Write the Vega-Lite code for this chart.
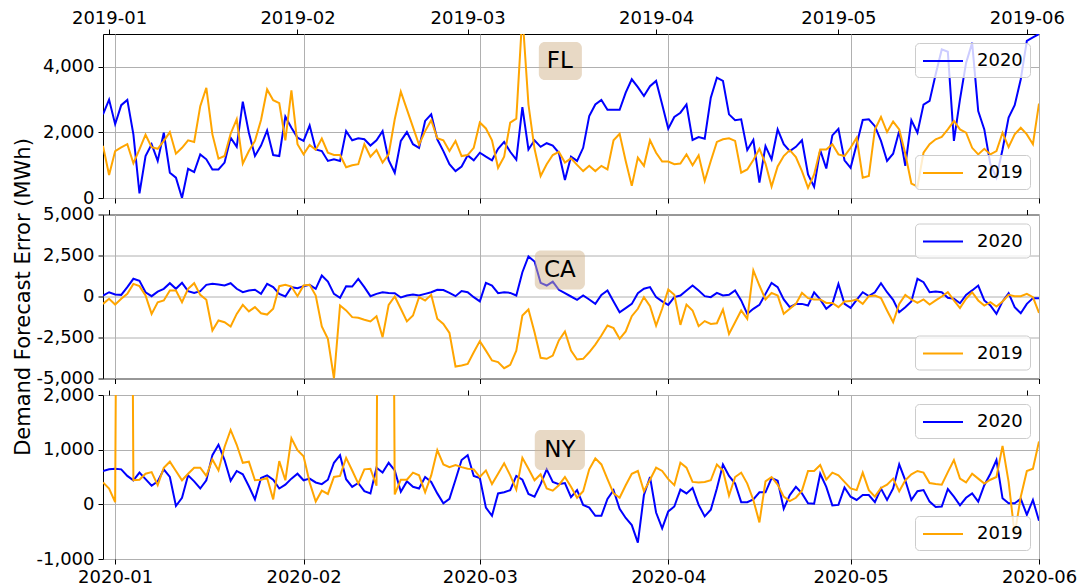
{
"$schema": "https://vega.github.io/schema/vega-lite/v6.json",
"padding": {"left": 12, "top": 8, "right": 0, "bottom": 0},
"background": "white",
"config": {
  "font": "DejaVu Sans",
  "view": {"stroke": "black", "strokeWidth": 1},
  "axis": {"labelFont": "DejaVu Sans", "labelFontSize": 18, "labelColor": "black", "tickColor": "black", "tickSize": 5, "tickWidth": 1, "domain": false, "gridColor": "#b0b0b0", "gridWidth": 1, "titleFont": "DejaVu Sans", "titleFontSize": 21, "titleFontWeight": "normal", "titleColor": "black", "labelFlush": false, "labelOverlap": false},
  "legend": {"labelFont": "DejaVu Sans", "labelFontSize": 18, "labelColor": "black", "padding": 7, "fillColor": "rgba(255,255,255,0.8)", "strokeColor": "#cccccc", "cornerRadius": 4, "symbolType": "M-2,0L2,0", "symbolSize": 400, "symbolStrokeWidth": 2, "symbolOffset": 10, "labelOffset": 23, "offset": 9},
  "locale": {"number": {"decimal": ".", "thousands": ",", "grouping": [3], "currency": ["$", ""], "minus": "-"}}
},
"data": {"values": [
{"d20":"2019-12-30","d19":"2018-12-31","FL20":2550,"FL19":1590,"CA20":60,"CA19":-450,"NY20":610,"NY19":400},
{"d20":"2019-12-31","d19":"2019-01-01","FL20":3000,"FL19":700,"CA20":260,"CA19":-140,"NY20":640,"NY19":290},
{"d20":"2020-01-01","d19":"2019-01-02","FL20":2250,"FL19":1430,"CA20":120,"CA19":-490,"NY20":650,"NY19":40},
{"d20":"2020-01-02","d19":"2019-01-03","FL20":2830,"FL19":1540,"CA20":100,"CA19":-140,"NY20":640,"NY19":20000},
{"d20":"2020-01-03","d19":"2019-01-04","FL20":2990,"FL19":1640,"CA20":570,"CA19":160,"NY20":520,"NY19":20000},
{"d20":"2020-01-04","d19":"2019-01-05","FL20":1940,"FL19":1060,"CA20":1080,"CA19":770,"NY20":440,"NY19":440},
{"d20":"2020-01-05","d19":"2019-01-06","FL20":140,"FL19":1480,"CA20":960,"CA19":630,"NY20":580,"NY19":450},
{"d20":"2020-01-06","d19":"2019-01-07","FL20":1280,"FL19":1930,"CA20":260,"CA19":60,"NY20":460,"NY19":560},
{"d20":"2020-01-07","d19":"2019-01-08","FL20":1640,"FL19":1550,"CA20":20,"CA19":-1060,"NY20":340,"NY19":590},
{"d20":"2020-01-08","d19":"2019-01-09","FL20":1130,"FL19":1500,"CA20":300,"CA19":-350,"NY20":420,"NY19":350},
{"d20":"2020-01-09","d19":"2019-01-10","FL20":1990,"FL19":1740,"CA20":470,"CA19":-240,"NY20":640,"NY19":670},
{"d20":"2020-01-10","d19":"2019-01-11","FL20":770,"FL19":2010,"CA20":810,"CA19":370,"NY20":500,"NY19":780},
{"d20":"2020-01-11","d19":"2019-01-12","FL20":620,"FL19":1350,"CA20":470,"CA19":370,"NY20":-30,"NY19":610},
{"d20":"2020-01-12","d19":"2019-01-13","FL20":0,"FL19":1530,"CA20":830,"CA19":-350,"NY20":120,"NY19":440},
{"d20":"2020-01-13","d19":"2019-01-14","FL20":890,"FL19":1760,"CA20":330,"CA19":470,"NY20":530,"NY19":560},
{"d20":"2020-01-14","d19":"2019-01-15","FL20":790,"FL19":1710,"CA20":220,"CA19":810,"NY20":420,"NY19":670},
{"d20":"2020-01-15","d19":"2019-01-16","FL20":1330,"FL19":2800,"CA20":330,"CA19":100,"NY20":290,"NY19":670},
{"d20":"2020-01-16","d19":"2019-01-17","FL20":1180,"FL19":3360,"CA20":710,"CA19":-200,"NY20":440,"NY19":520},
{"d20":"2020-01-17","d19":"2019-01-18","FL20":870,"FL19":1940,"CA20":770,"CA19":-2070,"NY20":900,"NY19":820},
{"d20":"2020-01-18","d19":"2019-01-19","FL20":870,"FL19":1200,"CA20":730,"CA19":-1460,"NY20":1090,"NY19":620},
{"d20":"2020-01-19","d19":"2019-01-20","FL20":1080,"FL19":1280,"CA20":670,"CA19":-1570,"NY20":810,"NY19":1050},
{"d20":"2020-01-20","d19":"2019-01-21","FL20":1840,"FL19":1960,"CA20":810,"CA19":-1830,"NY20":430,"NY19":1360},
{"d20":"2020-01-21","d19":"2019-01-22","FL20":1560,"FL19":2400,"CA20":470,"CA19":-1060,"NY20":610,"NY19":1090},
{"d20":"2020-01-22","d19":"2019-01-23","FL20":2940,"FL19":1050,"CA20":260,"CA19":-510,"NY20":550,"NY19":760},
{"d20":"2020-01-23","d19":"2019-01-24","FL20":1990,"FL19":1430,"CA20":370,"CA19":-910,"NY20":330,"NY19":780},
{"d20":"2020-01-24","d19":"2019-01-25","FL20":1280,"FL19":1740,"CA20":410,"CA19":-650,"NY20":90,"NY19":440},
{"d20":"2020-01-25","d19":"2019-01-26","FL20":1600,"FL19":2380,"CA20":160,"CA19":-1020,"NY20":480,"NY19":450},
{"d20":"2020-01-26","d19":"2019-01-27","FL20":2060,"FL19":3310,"CA20":770,"CA19":-1100,"NY20":530,"NY19":480},
{"d20":"2020-01-27","d19":"2019-01-28","FL20":1310,"FL19":2980,"CA20":570,"CA19":-750,"NY20":450,"NY19":90},
{"d20":"2020-01-28","d19":"2019-01-29","FL20":1280,"FL19":2890,"CA20":160,"CA19":630,"NY20":290,"NY19":790},
{"d20":"2020-01-29","d19":"2019-01-30","FL20":2480,"FL19":1760,"CA20":0,"CA19":710,"NY20":360,"NY19":440},
{"d20":"2020-01-30","d19":"2019-01-31","FL20":2140,"FL19":3280,"CA20":570,"CA19":610,"NY20":470,"NY19":1210},
{"d20":"2020-01-31","d19":"2019-02-01","FL20":1840,"FL19":1640,"CA20":510,"CA19":20,"NY20":560,"NY19":990},
{"d20":"2020-02-01","d19":"2019-02-02","FL20":1740,"FL19":1330,"CA20":630,"CA19":670,"NY20":440,"NY19":880},
{"d20":"2020-02-02","d19":"2019-02-03","FL20":2210,"FL19":1620,"CA20":710,"CA19":710,"NY20":470,"NY19":400},
{"d20":"2020-02-03","d19":"2019-02-04","FL20":1480,"FL19":1470,"CA20":470,"CA19":60,"NY20":400,"NY19":50},
{"d20":"2020-02-04","d19":"2019-02-05","FL20":1430,"FL19":1810,"CA20":1280,"CA19":-1830,"NY20":370,"NY19":250},
{"d20":"2020-02-05","d19":"2019-02-06","FL20":1130,"FL19":1380,"CA20":910,"CA19":-2580,"NY20":450,"NY19":190},
{"d20":"2020-02-06","d19":"2019-02-07","FL20":1180,"FL19":1310,"CA20":160,"CA19":-5000,"NY20":760,"NY19":500},
{"d20":"2020-02-07","d19":"2019-02-08","FL20":1130,"FL19":1310,"CA20":-80,"CA19":-550,"NY20":900,"NY19":520},
{"d20":"2020-02-08","d19":"2019-02-09","FL20":2040,"FL19":940,"CA20":630,"CA19":-850,"NY20":460,"NY19":850},
{"d20":"2020-02-09","d19":"2019-02-10","FL20":1760,"FL19":1000,"CA20":610,"CA19":-1260,"NY20":320,"NY19":620},
{"d20":"2020-02-10","d19":"2019-02-11","FL20":1820,"FL19":1030,"CA20":1080,"CA19":-1300,"NY20":390,"NY19":380},
{"d20":"2020-02-11","d19":"2019-02-12","FL20":1790,"FL19":1640,"CA20":570,"CA19":-1420,"NY20":240,"NY19":640},
{"d20":"2020-02-12","d19":"2019-02-13","FL20":1600,"FL19":1260,"CA20":20,"CA19":-1520,"NY20":200,"NY19":650},
{"d20":"2020-02-13","d19":"2019-02-14","FL20":1760,"FL19":1460,"CA20":160,"CA19":-1200,"NY20":670,"NY19":340},
{"d20":"2020-02-14","d19":"2019-02-15","FL20":2040,"FL19":1080,"CA20":260,"CA19":-2480,"NY20":580,"NY19":20000},
{"d20":"2020-02-15","d19":"2019-02-16","FL20":1150,"FL19":1330,"CA20":220,"CA19":-510,"NY20":760,"NY19":20000},
{"d20":"2020-02-16","d19":"2019-02-17","FL20":770,"FL19":2400,"CA20":200,"CA19":0,"NY20":620,"NY19":180},
{"d20":"2020-02-17","d19":"2019-02-18","FL20":1740,"FL19":3240,"CA20":-60,"CA19":-750,"NY20":230,"NY19":450},
{"d20":"2020-02-18","d19":"2019-02-19","FL20":2010,"FL19":2700,"CA20":60,"CA19":-1520,"NY20":420,"NY19":450},
{"d20":"2020-02-19","d19":"2019-02-20","FL20":1640,"FL19":2160,"CA20":120,"CA19":-1160,"NY20":320,"NY19":580},
{"d20":"2020-02-20","d19":"2019-02-21","FL20":1530,"FL19":1620,"CA20":60,"CA19":-40,"NY20":290,"NY19":530},
{"d20":"2020-02-21","d19":"2019-02-22","FL20":2350,"FL19":2040,"CA20":160,"CA19":-240,"NY20":500,"NY19":220},
{"d20":"2020-02-22","d19":"2019-02-23","FL20":2550,"FL19":2370,"CA20":260,"CA19":100,"NY20":410,"NY19":530},
{"d20":"2020-02-23","d19":"2019-02-24","FL20":1790,"FL19":1820,"CA20":410,"CA19":-1360,"NY20":200,"NY19":990},
{"d20":"2020-02-24","d19":"2019-02-25","FL20":1430,"FL19":1760,"CA20":390,"CA19":-1670,"NY20":20,"NY19":730},
{"d20":"2020-02-25","d19":"2019-02-26","FL20":1030,"FL19":1430,"CA20":220,"CA19":-2220,"NY20":100,"NY19":680},
{"d20":"2020-02-26","d19":"2019-02-27","FL20":820,"FL19":1740,"CA20":20,"CA19":-4270,"NY20":450,"NY19":720},
{"d20":"2020-02-27","d19":"2019-02-28","FL20":960,"FL19":1280,"CA20":330,"CA19":-4210,"NY20":810,"NY19":680},
{"d20":"2020-02-28","d19":"2019-03-01","FL20":1300,"FL19":1310,"CA20":260,"CA19":-4110,"NY20":900,"NY19":650},
{"d20":"2020-02-29","d19":"2019-03-02","FL20":1150,"FL19":1530,"CA20":-40,"CA19":-3400,"NY20":520,"NY19":640},
{"d20":"2020-03-01","d19":"2019-03-03","FL20":1380,"FL19":2300,"CA20":-300,"CA19":-2720,"NY20":480,"NY19":500},
{"d20":"2020-03-02","d19":"2019-03-04","FL20":1260,"FL19":2120,"CA20":830,"CA19":-3300,"NY20":-60,"NY19":620},
{"d20":"2020-03-03","d19":"2019-03-05","FL20":1150,"FL19":1760,"CA20":670,"CA19":-3900,"NY20":-210,"NY19":370},
{"d20":"2020-03-04","d19":"2019-03-06","FL20":1500,"FL19":920,"CA20":200,"CA19":-4000,"NY20":200,"NY19":560},
{"d20":"2020-03-05","d19":"2019-03-07","FL20":1710,"FL19":1260,"CA20":260,"CA19":-4370,"NY20":220,"NY19":750},
{"d20":"2020-03-06","d19":"2019-03-08","FL20":1410,"FL19":2300,"CA20":220,"CA19":-4170,"NY20":260,"NY19":530},
{"d20":"2020-03-07","d19":"2019-03-09","FL20":1170,"FL19":2420,"CA20":60,"CA19":-3300,"NY20":520,"NY19":270},
{"d20":"2020-03-08","d19":"2019-03-10","FL20":2770,"FL19":5600,"CA20":1480,"CA19":-1160,"NY20":450,"NY19":850},
{"d20":"2020-03-09","d19":"2019-03-11","FL20":1480,"FL19":2850,"CA20":2440,"CA19":-790,"NY20":190,"NY19":650},
{"d20":"2020-03-10","d19":"2019-03-12","FL20":1760,"FL19":1500,"CA20":2130,"CA19":-2180,"NY20":140,"NY19":440},
{"d20":"2020-03-11","d19":"2019-03-13","FL20":1560,"FL19":670,"CA20":830,"CA19":-3740,"NY20":370,"NY19":550},
{"d20":"2020-03-12","d19":"2019-03-14","FL20":1670,"FL19":1030,"CA20":670,"CA19":-3800,"NY20":640,"NY19":290},
{"d20":"2020-03-13","d19":"2019-03-15","FL20":1600,"FL19":1310,"CA20":910,"CA19":-3600,"NY20":410,"NY19":250},
{"d20":"2020-03-14","d19":"2019-03-16","FL20":1380,"FL19":1410,"CA20":410,"CA19":-2680,"NY20":370,"NY19":350},
{"d20":"2020-03-15","d19":"2019-03-17","FL20":550,"FL19":1080,"CA20":200,"CA19":-2130,"NY20":390,"NY19":500},
{"d20":"2020-03-16","d19":"2019-03-18","FL20":1260,"FL19":1210,"CA20":0,"CA19":-3300,"NY20":130,"NY19":320},
{"d20":"2020-03-17","d19":"2019-03-19","FL20":1130,"FL19":1010,"CA20":-200,"CA19":-3840,"NY20":260,"NY19":120},
{"d20":"2020-03-18","d19":"2019-03-20","FL20":1530,"FL19":820,"CA20":60,"CA19":-3800,"NY20":-10,"NY19":240},
{"d20":"2020-03-19","d19":"2019-03-21","FL20":2500,"FL19":980,"CA20":-180,"CA19":-3400,"NY20":-60,"NY19":640},
{"d20":"2020-03-20","d19":"2019-03-22","FL20":2850,"FL19":820,"CA20":-450,"CA19":-2930,"NY20":-210,"NY19":840},
{"d20":"2020-03-21","d19":"2019-03-23","FL20":2990,"FL19":980,"CA20":100,"CA19":-2380,"NY20":-210,"NY19":730},
{"d20":"2020-03-22","d19":"2019-03-24","FL20":2690,"FL19":870,"CA20":370,"CA19":-1770,"NY20":100,"NY19":460},
{"d20":"2020-03-23","d19":"2019-03-25","FL20":2690,"FL19":1760,"CA20":-300,"CA19":-1930,"NY20":260,"NY19":200},
{"d20":"2020-03-24","d19":"2019-03-26","FL20":2690,"FL19":1960,"CA20":-960,"CA19":-2580,"NY20":-80,"NY19":120},
{"d20":"2020-03-25","d19":"2019-03-27","FL20":3210,"FL19":1130,"CA20":-710,"CA19":-2130,"NY20":-250,"NY19":350},
{"d20":"2020-03-26","d19":"2019-03-28","FL20":3620,"FL19":370,"CA20":-450,"CA19":-1200,"NY20":-380,"NY19":560},
{"d20":"2020-03-27","d19":"2019-03-29","FL20":3380,"FL19":1230,"CA20":200,"CA19":-750,"NY20":-700,"NY19":610},
{"d20":"2020-03-28","d19":"2019-03-30","FL20":3110,"FL19":980,"CA20":470,"CA19":-40,"NY20":170,"NY19":240},
{"d20":"2020-03-29","d19":"2019-03-31","FL20":3410,"FL19":1760,"CA20":570,"CA19":-590,"NY20":500,"NY19":450},
{"d20":"2020-03-30","d19":"2019-04-01","FL20":3570,"FL19":1380,"CA20":-40,"CA19":-1770,"NY20":-150,"NY19":670},
{"d20":"2020-03-31","d19":"2019-04-02","FL20":2850,"FL19":1110,"CA20":-300,"CA19":-750,"NY20":-440,"NY19":610},
{"d20":"2020-04-01","d19":"2019-04-03","FL20":2110,"FL19":1110,"CA20":-510,"CA19":430,"NY20":-130,"NY19":460},
{"d20":"2020-04-02","d19":"2019-04-04","FL20":2470,"FL19":1030,"CA20":-40,"CA19":100,"NY20":-40,"NY19":350},
{"d20":"2020-04-03","d19":"2019-04-05","FL20":2600,"FL19":1050,"CA20":60,"CA19":-1730,"NY20":270,"NY19":760},
{"d20":"2020-04-04","d19":"2019-04-06","FL20":2850,"FL19":1330,"CA20":370,"CA19":-490,"NY20":200,"NY19":670},
{"d20":"2020-04-05","d19":"2019-04-07","FL20":1770,"FL19":1000,"CA20":670,"CA19":-850,"NY20":300,"NY19":410},
{"d20":"2020-04-06","d19":"2019-04-08","FL20":1860,"FL19":1300,"CA20":370,"CA19":-1810,"NY20":-10,"NY19":400},
{"d20":"2020-04-07","d19":"2019-04-09","FL20":1810,"FL19":520,"CA20":20,"CA19":-1500,"NY20":-220,"NY19":410},
{"d20":"2020-04-08","d19":"2019-04-10","FL20":3060,"FL19":1130,"CA20":-40,"CA19":-1670,"NY20":-100,"NY19":440},
{"d20":"2020-04-09","d19":"2019-04-11","FL20":3670,"FL19":1710,"CA20":220,"CA19":-1630,"NY20":290,"NY19":730},
{"d20":"2020-04-10","d19":"2019-04-12","FL20":3570,"FL19":1790,"CA20":60,"CA19":-800,"NY20":730,"NY19":620},
{"d20":"2020-04-11","d19":"2019-04-13","FL20":2550,"FL19":1820,"CA20":100,"CA19":-2280,"NY20":520,"NY19":160},
{"d20":"2020-04-12","d19":"2019-04-14","FL20":2370,"FL19":1740,"CA20":370,"CA19":-1570,"NY20":380,"NY19":500},
{"d20":"2020-04-13","d19":"2019-04-15","FL20":2400,"FL19":770,"CA20":-240,"CA19":-850,"NY20":40,"NY19":580},
{"d20":"2020-04-14","d19":"2019-04-16","FL20":1460,"FL19":870,"CA20":-1060,"CA19":-1360,"NY20":40,"NY19":380},
{"d20":"2020-04-15","d19":"2019-04-17","FL20":1770,"FL19":1160,"CA20":-750,"CA19":1590,"NY20":90,"NY19":80},
{"d20":"2020-04-16","d19":"2019-04-18","FL20":470,"FL19":1500,"CA20":-510,"CA19":670,"NY20":220,"NY19":-330},
{"d20":"2020-04-17","d19":"2019-04-19","FL20":1580,"FL19":1050,"CA20":160,"CA19":-180,"NY20":220,"NY19":420},
{"d20":"2020-04-18","d19":"2019-04-20","FL20":1180,"FL19":350,"CA20":830,"CA19":220,"NY20":480,"NY19":500},
{"d20":"2020-04-19","d19":"2019-04-21","FL20":2090,"FL19":960,"CA20":570,"CA19":60,"NY20":430,"NY19":360},
{"d20":"2020-04-20","d19":"2019-04-22","FL20":1640,"FL19":1280,"CA20":-180,"CA19":-1060,"NY20":-80,"NY19":140},
{"d20":"2020-04-21","d19":"2019-04-23","FL20":1430,"FL19":1460,"CA20":-650,"CA19":-750,"NY20":170,"NY19":60},
{"d20":"2020-04-22","d19":"2019-04-24","FL20":1560,"FL19":1250,"CA20":-450,"CA19":-450,"NY20":320,"NY19":120},
{"d20":"2020-04-23","d19":"2019-04-25","FL20":1760,"FL19":820,"CA20":-450,"CA19":220,"NY20":200,"NY19":250},
{"d20":"2020-04-24","d19":"2019-04-26","FL20":720,"FL19":310,"CA20":-550,"CA19":-100,"NY20":20,"NY19":610},
{"d20":"2020-04-25","d19":"2019-04-27","FL20":340,"FL19":720,"CA20":260,"CA19":-180,"NY20":10,"NY19":610},
{"d20":"2020-04-26","d19":"2019-04-28","FL20":1460,"FL19":1480,"CA20":-180,"CA19":-180,"NY20":560,"NY19":720},
{"d20":"2020-04-27","d19":"2019-04-29","FL20":900,"FL19":1480,"CA20":-750,"CA19":-390,"NY20":320,"NY19":450},
{"d20":"2020-04-28","d19":"2019-04-30","FL20":1910,"FL19":1640,"CA20":-450,"CA19":-390,"NY20":-20,"NY19":580},
{"d20":"2020-04-29","d19":"2019-05-01","FL20":2110,"FL19":1330,"CA20":770,"CA19":-650,"NY20":-10,"NY19":530},
{"d20":"2020-04-30","d19":"2019-05-02","FL20":1150,"FL19":1280,"CA20":-450,"CA19":-300,"NY20":310,"NY19":410},
{"d20":"2020-05-01","d19":"2019-05-03","FL20":920,"FL19":1530,"CA20":-690,"CA19":-280,"NY20":140,"NY19":290},
{"d20":"2020-05-02","d19":"2019-05-04","FL20":1640,"FL19":1840,"CA20":-200,"CA19":-180,"NY20":80,"NY19":260},
{"d20":"2020-05-03","d19":"2019-05-05","FL20":2380,"FL19":620,"CA20":260,"CA19":-450,"NY20":170,"NY19":580},
{"d20":"2020-05-04","d19":"2019-05-06","FL20":2400,"FL19":670,"CA20":20,"CA19":20,"NY20":170,"NY19":260},
{"d20":"2020-05-05","d19":"2019-05-07","FL20":2190,"FL19":2090,"CA20":260,"CA19":60,"NY20":40,"NY19":140},
{"d20":"2020-05-06","d19":"2019-05-08","FL20":1740,"FL19":2470,"CA20":810,"CA19":-100,"NY20":290,"NY19":300},
{"d20":"2020-05-07","d19":"2019-05-09","FL20":1130,"FL19":2010,"CA20":260,"CA19":-850,"NY20":80,"NY19":360},
{"d20":"2020-05-08","d19":"2019-05-10","FL20":1350,"FL19":2330,"CA20":-200,"CA19":-1570,"NY20":290,"NY19":470},
{"d20":"2020-05-09","d19":"2019-05-11","FL20":2040,"FL19":2090,"CA20":-960,"CA19":-450,"NY20":730,"NY19":240},
{"d20":"2020-05-10","d19":"2019-05-12","FL20":980,"FL19":1350,"CA20":-650,"CA19":100,"NY20":440,"NY19":440},
{"d20":"2020-05-11","d19":"2019-05-13","FL20":2370,"FL19":440,"CA20":-300,"CA19":-180,"NY20":80,"NY19":550},
{"d20":"2020-05-12","d19":"2019-05-14","FL20":1990,"FL19":350,"CA20":1080,"CA19":-390,"NY20":240,"NY19":610},
{"d20":"2020-05-13","d19":"2019-05-15","FL20":2850,"FL19":1380,"CA20":870,"CA19":-180,"NY20":260,"NY19":580},
{"d20":"2020-05-14","d19":"2019-05-16","FL20":2960,"FL19":1640,"CA20":260,"CA19":-490,"NY20":50,"NY19":390},
{"d20":"2020-05-15","d19":"2019-05-17","FL20":3770,"FL19":1790,"CA20":300,"CA19":-240,"NY20":-50,"NY19":370},
{"d20":"2020-05-16","d19":"2019-05-18","FL20":4530,"FL19":1860,"CA20":260,"CA19":0,"NY20":-40,"NY19":360},
{"d20":"2020-05-17","d19":"2019-05-19","FL20":4460,"FL19":2090,"CA20":-80,"CA19":260,"NY20":280,"NY19":590},
{"d20":"2020-05-18","d19":"2019-05-20","FL20":1740,"FL19":2350,"CA20":-140,"CA19":-240,"NY20":140,"NY19":810},
{"d20":"2020-05-19","d19":"2019-05-21","FL20":3010,"FL19":2090,"CA20":-410,"CA19":-710,"NY20":-20,"NY19":470},
{"d20":"2020-05-20","d19":"2019-05-22","FL20":4120,"FL19":1990,"CA20":100,"CA19":-140,"NY20":120,"NY19":400},
{"d20":"2020-05-21","d19":"2019-05-23","FL20":4730,"FL19":1530,"CA20":370,"CA19":260,"NY20":200,"NY19":560},
{"d20":"2020-05-22","d19":"2019-05-24","FL20":2650,"FL19":1330,"CA20":670,"CA19":-240,"NY20":50,"NY19":470},
{"d20":"2020-05-23","d19":"2019-05-25","FL20":2090,"FL19":1500,"CA20":-240,"CA19":-550,"NY20":350,"NY19":380},
{"d20":"2020-05-24","d19":"2019-05-26","FL20":1030,"FL19":1330,"CA20":-550,"CA19":-350,"NY20":560,"NY19":450},
{"d20":"2020-05-25","d19":"2019-05-27","FL20":620,"FL19":1430,"CA20":-1060,"CA19":-610,"NY20":810,"NY19":500},
{"d20":"2020-05-26","d19":"2019-05-28","FL20":1480,"FL19":1990,"CA20":-300,"CA19":-300,"NY20":110,"NY19":1070},
{"d20":"2020-05-27","d19":"2019-05-29","FL20":2450,"FL19":1550,"CA20":200,"CA19":100,"NY20":20,"NY19":410},
{"d20":"2020-05-28","d19":"2019-05-30","FL20":2830,"FL19":1940,"CA20":-650,"CA19":20,"NY20":20,"NY19":-550},
{"d20":"2020-05-29","d19":"2019-05-31","FL20":3620,"FL19":2140,"CA20":-1020,"CA19":20,"NY20":100,"NY19":140},
{"d20":"2020-05-30","d19":"2019-06-01","FL20":4790,"FL19":1940,"CA20":-450,"CA19":160,"NY20":-190,"NY19":610},
{"d20":"2020-05-31","d19":"2019-06-02","FL20":4900,"FL19":1640,"CA20":-100,"CA19":-40,"NY20":80,"NY19":650},
{"d20":"2020-06-01","d19":"2019-06-03","FL20":5000,"FL19":2880,"CA20":-100,"CA19":-1000,"NY20":-300,"NY19":1150}
]},
"spacing": 16.5,
"bounds": "flush",
"resolve": {"scale": {"x": "independent", "y": "independent", "color": "independent"}, "axis": {"x": "independent", "y": "independent"}, "legend": {"color": "independent"}},
"vconcat": [
{
  "width": 936, "height": 164,
  "resolve": {"scale": {"x": "independent", "color": "independent"}, "axis": {"x": "independent"}, "legend": {"color": "independent"}},
  "layer": [
    {"mark": {"type": "line", "strokeWidth": 2, "clip": true},
     "encoding": {
       "x": {"field": "d20", "type": "temporal", "scale": {"type": "utc", "domain": [{"year":2019,"month":12,"date":30,"utc":true},{"year":2020,"month":6,"date":1,"utc":true}]},
             "axis": {"orient": "bottom", "title": null, "labels": false, "grid": true, "values": [{"year":2020,"month":1,"date":1,"utc":true},{"year":2020,"month":2,"date":1,"utc":true},{"year":2020,"month":3,"date":1,"utc":true},{"year":2020,"month":4,"date":1,"utc":true},{"year":2020,"month":5,"date":1,"utc":true},{"year":2020,"month":6,"date":1,"utc":true}]}},
       "y": {"field": "FL20", "type": "quantitative", "scale": {"domain": [0, 5000], "nice": false, "zero": false},
             "axis": {"title": null, "values": [0, 2000, 4000], "format": ",.0f", "grid": true, "labelPadding": 4}},
       "color": {"datum": "2020", "scale": {"domain": ["2020"], "range": ["#0000ff"]}, "legend": {"title": null, "orient": "top-right"}}
     }},
    {"mark": {"type": "line", "strokeWidth": 2, "clip": true},
     "encoding": {
       "x": {"field": "d19", "type": "temporal", "scale": {"type": "utc", "domain": [{"year":2018,"month":12,"date":31,"utc":true},{"year":2019,"month":6,"date":3,"utc":true}]},
             "axis": {"orient": "top", "title": null, "labels": true, "grid": false, "format": "%Y-%m", "labelPadding": 2, "values": [{"year":2019,"month":1,"date":1,"utc":true},{"year":2019,"month":2,"date":1,"utc":true},{"year":2019,"month":3,"date":1,"utc":true},{"year":2019,"month":4,"date":1,"utc":true},{"year":2019,"month":5,"date":1,"utc":true},{"year":2019,"month":6,"date":1,"utc":true}]}},
       "y": {"field": "FL19", "type": "quantitative", "scale": {"domain": [0, 5000], "nice": false, "zero": false}},
       "color": {"datum": "2019", "scale": {"domain": ["2019"], "range": ["#ffa500"]}, "legend": {"title": null, "orient": "bottom-right"}}
     }},
    {"data": {"values": [{}]},
     "mark": {"type": "rect", "fill": "#D2B48C", "opacity": 0.5, "cornerRadius": 6},
     "encoding": {
       "x": {"datum": {"year":2020,"month":3,"date":10,"hours":17,"utc":true}, "type": "temporal", "scale": {"type": "utc", "domain": [{"year":2019,"month":12,"date":30,"utc":true},{"year":2020,"month":6,"date":1,"utc":true}]}, "axis": null},
       "x2": {"datum": {"year":2020,"month":3,"date":17,"hours":19,"utc":true}},
       "y": {"datum": 4756, "type": "quantitative", "scale": {"domain": [0, 5000], "nice": false, "zero": false}},
       "y2": {"datum": 3598}
     }},
    {"data": {"values": [{}]},
     "mark": {"type": "text", "text": "FL", "fontSize": 23, "font": "DejaVu Sans", "color": "black", "align": "center", "baseline": "middle"},
     "encoding": {
       "x": {"datum": {"year":2020,"month":3,"date":14,"hours":4,"utc":true}, "type": "temporal", "scale": {"type": "utc", "domain": [{"year":2019,"month":12,"date":30,"utc":true},{"year":2020,"month":6,"date":1,"utc":true}]}, "axis": null},
       "y": {"datum": 4171, "type": "quantitative", "scale": {"domain": [0, 5000], "nice": false, "zero": false}}
     }}
  ]
},
{
  "width": 936, "height": 164,
  "resolve": {"scale": {"x": "independent", "color": "independent"}, "axis": {"x": "independent"}, "legend": {"color": "independent"}},
  "layer": [
    {"mark": {"type": "line", "strokeWidth": 2, "clip": true},
     "encoding": {
       "x": {"field": "d20", "type": "temporal", "scale": {"type": "utc", "domain": [{"year":2019,"month":12,"date":30,"utc":true},{"year":2020,"month":6,"date":1,"utc":true}]},
             "axis": {"orient": "bottom", "title": null, "labels": false, "grid": true, "values": [{"year":2020,"month":1,"date":1,"utc":true},{"year":2020,"month":2,"date":1,"utc":true},{"year":2020,"month":3,"date":1,"utc":true},{"year":2020,"month":4,"date":1,"utc":true},{"year":2020,"month":5,"date":1,"utc":true},{"year":2020,"month":6,"date":1,"utc":true}]}},
       "y": {"field": "CA20", "type": "quantitative", "scale": {"domain": [-5000, 5000], "nice": false, "zero": false},
             "axis": {"title": "Demand Forecast Error (MWh)", "titlePadding": 2, "values": [-5000, -2500, 0, 2500, 5000], "format": ",.0f", "grid": true, "labelPadding": 4}},
       "color": {"datum": "2020", "scale": {"domain": ["2020"], "range": ["#0000ff"]}, "legend": {"title": null, "orient": "top-right"}}
     }},
    {"mark": {"type": "line", "strokeWidth": 2, "clip": true},
     "encoding": {
       "x": {"field": "d19", "type": "temporal", "scale": {"type": "utc", "domain": [{"year":2018,"month":12,"date":31,"utc":true},{"year":2019,"month":6,"date":3,"utc":true}]},
             "axis": {"orient": "top", "title": null, "labels": false, "grid": false, "values": [{"year":2019,"month":1,"date":1,"utc":true},{"year":2019,"month":2,"date":1,"utc":true},{"year":2019,"month":3,"date":1,"utc":true},{"year":2019,"month":4,"date":1,"utc":true},{"year":2019,"month":5,"date":1,"utc":true},{"year":2019,"month":6,"date":1,"utc":true}]}},
       "y": {"field": "CA19", "type": "quantitative", "scale": {"domain": [-5000, 5000], "nice": false, "zero": false}},
       "color": {"datum": "2019", "scale": {"domain": ["2019"], "range": ["#ffa500"]}, "legend": {"title": null, "orient": "bottom-right"}}
     }},
    {"data": {"values": [{}]},
     "mark": {"type": "rect", "fill": "#D2B48C", "opacity": 0.5, "cornerRadius": 6},
     "encoding": {
       "x": {"datum": {"year":2020,"month":3,"date":10,"hours":1,"utc":true}, "type": "temporal", "scale": {"type": "utc", "domain": [{"year":2019,"month":12,"date":30,"utc":true},{"year":2020,"month":6,"date":1,"utc":true}]}, "axis": null},
       "x2": {"datum": {"year":2020,"month":3,"date":18,"hours":7,"utc":true}},
       "y": {"datum": 2805, "type": "quantitative", "scale": {"domain": [-5000, 5000], "nice": false, "zero": false}},
       "y2": {"datum": 427}
     }},
    {"data": {"values": [{}]},
     "mark": {"type": "text", "text": "CA", "fontSize": 23, "font": "DejaVu Sans", "color": "black", "align": "center", "baseline": "middle"},
     "encoding": {
       "x": {"datum": {"year":2020,"month":3,"date":14,"hours":4,"utc":true}, "type": "temporal", "scale": {"type": "utc", "domain": [{"year":2019,"month":12,"date":30,"utc":true},{"year":2020,"month":6,"date":1,"utc":true}]}, "axis": null},
       "y": {"datum": 1616, "type": "quantitative", "scale": {"domain": [-5000, 5000], "nice": false, "zero": false}}
     }}
  ]
},
{
  "width": 936, "height": 164,
  "resolve": {"scale": {"x": "independent", "color": "independent"}, "axis": {"x": "independent"}, "legend": {"color": "independent"}},
  "layer": [
    {"mark": {"type": "line", "strokeWidth": 2, "clip": true},
     "encoding": {
       "x": {"field": "d20", "type": "temporal", "scale": {"type": "utc", "domain": [{"year":2019,"month":12,"date":30,"utc":true},{"year":2020,"month":6,"date":1,"utc":true}]},
             "axis": {"orient": "bottom", "title": null, "labels": true, "format": "%Y-%m", "labelPadding": 4, "grid": true, "values": [{"year":2020,"month":1,"date":1,"utc":true},{"year":2020,"month":2,"date":1,"utc":true},{"year":2020,"month":3,"date":1,"utc":true},{"year":2020,"month":4,"date":1,"utc":true},{"year":2020,"month":5,"date":1,"utc":true},{"year":2020,"month":6,"date":1,"utc":true}]}},
       "y": {"field": "NY20", "type": "quantitative", "scale": {"domain": [-1000, 2000], "nice": false, "zero": false},
             "axis": {"title": null, "values": [-1000, 0, 1000, 2000], "format": ",.0f", "grid": true, "labelPadding": 4}},
       "color": {"datum": "2020", "scale": {"domain": ["2020"], "range": ["#0000ff"]}, "legend": {"title": null, "orient": "top-right"}}
     }},
    {"mark": {"type": "line", "strokeWidth": 2, "clip": true},
     "encoding": {
       "x": {"field": "d19", "type": "temporal", "scale": {"type": "utc", "domain": [{"year":2018,"month":12,"date":31,"utc":true},{"year":2019,"month":6,"date":3,"utc":true}]},
             "axis": {"orient": "top", "title": null, "labels": false, "grid": false, "values": [{"year":2019,"month":1,"date":1,"utc":true},{"year":2019,"month":2,"date":1,"utc":true},{"year":2019,"month":3,"date":1,"utc":true},{"year":2019,"month":4,"date":1,"utc":true},{"year":2019,"month":5,"date":1,"utc":true},{"year":2019,"month":6,"date":1,"utc":true}]}},
       "y": {"field": "NY19", "type": "quantitative", "scale": {"domain": [-1000, 2000], "nice": false, "zero": false}},
       "color": {"datum": "2019", "scale": {"domain": ["2019"], "range": ["#ffa500"]}, "legend": {"title": null, "orient": "bottom-right"}}
     }},
    {"data": {"values": [{}]},
     "mark": {"type": "rect", "fill": "#D2B48C", "opacity": 0.5, "cornerRadius": 6},
     "encoding": {
       "x": {"datum": {"year":2020,"month":3,"date":10,"hours":1,"utc":true}, "type": "temporal", "scale": {"type": "utc", "domain": [{"year":2019,"month":12,"date":30,"utc":true},{"year":2020,"month":6,"date":1,"utc":true}]}, "axis": null},
       "x2": {"datum": {"year":2020,"month":3,"date":18,"hours":7,"utc":true}},
       "y": {"datum": 1359, "type": "quantitative", "scale": {"domain": [-1000, 2000], "nice": false, "zero": false}},
       "y2": {"datum": 627}
     }},
    {"data": {"values": [{}]},
     "mark": {"type": "text", "text": "NY", "fontSize": 23, "font": "DejaVu Sans", "color": "black", "align": "center", "baseline": "middle"},
     "encoding": {
       "x": {"datum": {"year":2020,"month":3,"date":14,"hours":4,"utc":true}, "type": "temporal", "scale": {"type": "utc", "domain": [{"year":2019,"month":12,"date":30,"utc":true},{"year":2020,"month":6,"date":1,"utc":true}]}, "axis": null},
       "y": {"datum": 993, "type": "quantitative", "scale": {"domain": [-1000, 2000], "nice": false, "zero": false}}
     }}
  ]
}
]
}
